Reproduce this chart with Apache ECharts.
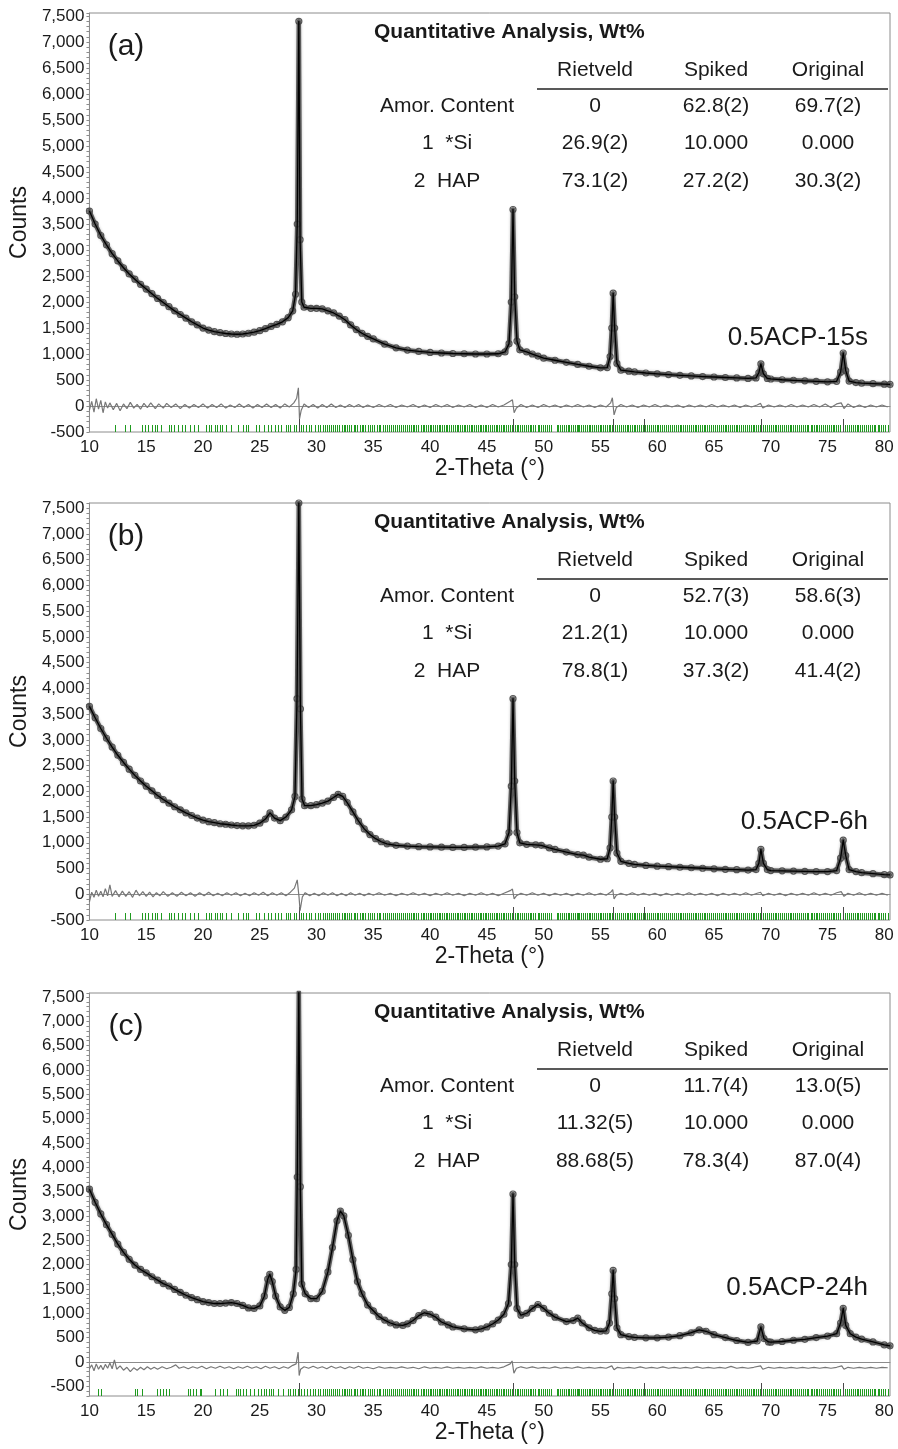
<!DOCTYPE html>
<html>
<head>
<meta charset="utf-8">
<script src="https://cdn.jsdelivr.net/npm/echarts@6/dist/echarts.min.js"></script>
<style>
  html, body { margin: 0; padding: 0; background: #ffffff; }
  #chart { width: 898px; height: 1449px; }
</style>
</head>
<body>
<div id="chart"></div>
<script>
// ---- Rietveld refinement plots of three 0.5ACP samples ----

const panelTags = ['(a)', '(b)', '(c)'];
const sampleNames = ['0.5ACP-15s', '0.5ACP-6h', '0.5ACP-24h'];
const tableTitle = 'Quantitative Analysis, Wt%';
const colHeads = ['Rietveld', 'Spiked', 'Original'];
const rowNames = ['Amor. Content', '1  *Si', '2  HAP'];
const wtA = [['0', '62.8(2)', '69.7(2)'], ['26.9(2)', '10.000', '0.000'], ['73.1(2)', '27.2(2)', '30.3(2)']];
const wtB = [['0', '52.7(3)', '58.6(3)'], ['21.2(1)', '10.000', '0.000'], ['78.8(1)', '37.3(2)', '41.4(2)']];
const wtC = [['0', '11.7(4)', '13.0(5)'], ['11.32(5)', '10.000', '0.000'], ['88.68(5)', '78.3(4)', '87.0(4)']];

// observed / fitted profile, [2-theta, counts]
const obsA = [[10,3750],[10.5,3500],[11,3280],[11.5,3100],[12,2930],[12.5,2790],[13,2660],[13.5,2540],[14,2440],[14.5,2340],[15,2250],[15.5,2160],[16,2070],[16.5,1990],[17,1910],[17.5,1830],[18,1760],[18.5,1690],[19,1620],[19.5,1560],[20,1500],[20.5,1460],[21,1430],[21.5,1410],[22,1395],[22.5,1385],[23,1380],[23.5,1385],[24,1400],[24.5,1420],[25,1450],[25.5,1490],[26,1530],[26.5,1570],[27,1620],[27.5,1700],[27.9,1830],[28.15,2150],[28.3,3500],[28.44,7400],[28.55,3200],[28.7,2000],[28.9,1900],[29.5,1880],[30,1880],[30.5,1870],[31,1830],[31.5,1790],[32,1730],[32.5,1660],[33,1560],[33.5,1470],[34,1400],[34.5,1340],[35,1290],[36,1190],[37,1120],[38,1075],[39,1050],[40,1030],[41,1020],[42,1010],[43,1005],[44,1000],[45,1000],[46,1005],[46.6,1040],[46.95,1200],[47.15,2000],[47.3,3780],[47.45,2100],[47.65,1250],[47.9,1080],[48.5,1040],[49,1000],[49.5,960],[50,920],[51,880],[52,840],[53,800],[54,765],[55,735],[55.6,740],[55.85,950],[56,1500],[56.12,2170],[56.25,1500],[56.45,820],[56.8,690],[57.5,670],[58,655],[59,635],[60,620],[61,605],[62,590],[63,578],[64,567],[65,558],[66,548],[67,540],[68,530],[68.7,540],[68.95,640],[69.13,810],[69.35,620],[69.7,530],[70,520],[71,505],[72,495],[73,485],[74,475],[75,465],[75.8,475],[76.15,650],[76.38,1020],[76.6,680],[76.9,480],[77.5,450],[78,440],[79,430],[80,420],[80.5,415]];

const obsB = [[10,3650],[10.5,3430],[11,3220],[11.5,3030],[12,2860],[12.5,2700],[13,2560],[13.5,2430],[14,2310],[14.5,2200],[15,2100],[15.5,2010],[16,1920],[16.5,1840],[17,1770],[17.5,1700],[18,1640],[18.5,1580],[19,1530],[19.5,1480],[20,1440],[20.5,1410],[21,1390],[21.5,1370],[22,1360],[22.5,1345],[23,1335],[23.5,1330],[24,1330],[24.5,1340],[25,1380],[25.5,1460],[25.9,1580],[26.3,1480],[26.8,1430],[27.3,1500],[27.8,1640],[28.1,1900],[28.28,3800],[28.44,7600],[28.58,3600],[28.72,1850],[28.95,1720],[29.5,1720],[30,1740],[30.5,1770],[31,1810],[31.5,1880],[31.9,1940],[32.3,1900],[32.7,1780],[33.2,1600],[33.7,1420],[34.2,1270],[34.7,1160],[35.2,1080],[35.7,1020],[36.2,980],[37,950],[38,935],[39,925],[40,920],[41,915],[42,910],[43,910],[44,915],[45,920],[46,935],[46.6,980],[46.95,1200],[47.15,2100],[47.3,3800],[47.45,2200],[47.65,1200],[47.9,1000],[48.5,970],[49.3,960],[49.8,950],[50.5,900],[51,870],[52,820],[53,770],[53.5,760],[54,720],[55,680],[55.6,690],[55.85,900],[56,1500],[56.12,2200],[56.25,1500],[56.45,800],[56.8,640],[57.5,600],[58,580],[59,560],[60,545],[61,535],[62,525],[63,515],[64,505],[65,495],[66,485],[67,478],[68,470],[68.7,480],[68.95,600],[69.13,870],[69.35,600],[69.7,480],[70,460],[71,455],[72,450],[73,445],[74,440],[75,440],[75.8,460],[76.15,700],[76.38,1050],[76.6,750],[76.9,480],[77.5,440],[78,420],[79,400],[80,380],[80.5,375]];

const obsC = [[10,3550],[10.5,3280],[11,3040],[11.5,2820],[12,2620],[12.5,2420],[13,2250],[13.5,2110],[14,1990],[14.5,1900],[15,1830],[15.5,1750],[16,1680],[16.5,1610],[17,1560],[17.5,1490],[18,1430],[18.5,1370],[19,1320],[19.5,1280],[20,1240],[20.5,1220],[21,1200],[21.5,1200],[22,1210],[22.5,1220],[23,1200],[23.5,1160],[24,1110],[24.5,1100],[25,1150],[25.4,1350],[25.7,1700],[25.88,1800],[26.1,1650],[26.4,1350],[26.8,1130],[27.2,1060],[27.6,1120],[27.95,1400],[28.2,1900],[28.3,3800],[28.44,7600],[28.57,3600],[28.7,1600],[29,1400],[29.5,1300],[30,1300],[30.5,1450],[31,1850],[31.4,2350],[31.8,2900],[32.1,3100],[32.4,3000],[32.8,2600],[33.2,2100],[33.6,1650],[34,1400],[34.5,1170],[35,1050],[35.5,930],[36,860],[36.5,800],[37,760],[37.6,750],[38,780],[38.5,850],[39,950],[39.5,1010],[40,980],[40.5,920],[41,820],[41.6,760],[42,720],[43,680],[44,660],[44.5,680],[45,720],[45.5,780],[46,860],[46.5,980],[46.9,1200],[47.15,2000],[47.3,3450],[47.45,2000],[47.65,1100],[48,960],[48.5,1000],[49,1100],[49.5,1180],[50,1100],[50.5,1000],[51,920],[52,830],[52.6,850],[53,900],[53.4,800],[54,700],[54.5,650],[55,630],[55.5,640],[55.8,800],[56,1400],[56.12,1880],[56.25,1300],[56.45,700],[56.8,560],[57.5,520],[58,505],[59,495],[60,495],[61,510],[62,540],[63,600],[63.7,660],[64.3,630],[65,560],[66,500],[67,440],[68,400],[68.8,430],[69.13,720],[69.4,480],[69.8,410],[70,405],[71,420],[72,445],[73,465],[74,500],[75,530],[75.8,580],[76.15,800],[76.38,1100],[76.6,750],[77,580],[77.5,510],[78,470],[79,410],[80,350],[80.5,330]];

// difference curves (observed - calculated)
const diffA = [[10,-80],[10.2,90],[10.4,-120],[10.6,140],[10.8,-60],[11,110],[11.2,-130],[11.4,80],[11.6,-40],[11.8,60],[12.1,-70],[12.4,50],[12.7,-90],[13,40],[13.3,-50],[13.6,70],[13.9,-40],[14.2,30],[14.5,-60],[14.8,50],[15.1,-30],[15.4,60],[15.8,-50],[16.1,40],[16.5,-40],[16.8,50],[17.2,-30],[17.6,40],[18,-50],[18.4,30],[18.8,-40],[19.2,30],[19.6,-30],[20,40],[20.4,-40],[20.8,30],[21.2,-30],[21.6,40],[22,-40],[22.4,20],[22.8,-30],[23.2,40],[23.6,-30],[24,30],[24.4,-40],[24.8,30],[25.2,-30],[25.6,40],[26,-30],[26.4,30],[26.8,-40],[27.2,40],[27.6,-20],[28,60],[28.25,150],[28.4,350],[28.5,-250],[28.65,-80],[28.9,40],[29.3,-30],[29.7,30],[30.1,-40],[30.5,30],[30.9,-30],[31.3,40],[31.7,-30],[32.1,20],[32.5,-30],[32.9,30],[33.3,-20],[33.7,30],[34.1,-30],[34.5,20],[35,-30],[35.5,30],[36,-20],[36.5,30],[37,-30],[37.5,20],[38,-20],[38.5,30],[39,-30],[39.5,20],[40,-30],[40.5,30],[41,-20],[41.5,30],[42,-30],[42.5,20],[43,-20],[43.5,30],[44,-30],[44.5,20],[45,-30],[45.5,30],[46,-20],[46.5,20],[47.05,90],[47.25,120],[47.4,-130],[47.6,-40],[48,30],[48.5,-30],[49,20],[49.5,-30],[50,30],[50.5,-20],[51,20],[51.5,-30],[52,20],[52.5,-20],[53,30],[53.5,-20],[54,20],[54.5,-30],[55,20],[55.5,-20],[55.9,60],[56.05,160],[56.2,-170],[56.4,-30],[56.8,30],[57.3,-20],[57.8,20],[58.3,-30],[58.8,20],[59.3,-20],[59.8,30],[60.3,-20],[60.8,20],[61.3,-20],[61.8,20],[62.3,-30],[62.8,20],[63.3,-20],[63.8,20],[64.3,-20],[64.8,30],[65.3,-20],[65.8,20],[66.3,-20],[66.8,20],[67.3,-30],[67.8,20],[68.3,-20],[68.8,20],[69.1,50],[69.3,-40],[69.8,20],[70.3,-20],[70.8,20],[71.3,-20],[71.8,30],[72.3,-20],[72.8,20],[73.3,-20],[73.8,30],[74.3,-20],[74.8,40],[75.3,-30],[75.8,40],[76.2,60],[76.45,-50],[76.8,40],[77.3,-30],[77.8,20],[78.3,-30],[78.8,20],[79.3,-20],[79.8,20],[80.3,-20]];

const diffB = [[10,-150],[10.2,40],[10.4,-60],[10.6,80],[10.8,-40],[11,60],[11.2,-50],[11.4,110],[11.6,-30],[11.8,180],[12,-40],[12.3,70],[12.6,-50],[12.9,60],[13.2,-40],[13.5,50],[13.8,-60],[14.1,80],[14.4,-30],[14.7,50],[15,-40],[15.3,40],[15.6,-50],[15.9,30],[16.2,-30],[16.5,50],[16.9,-40],[17.3,30],[17.7,-40],[18.1,40],[18.5,-30],[18.9,30],[19.3,-40],[19.7,30],[20.1,-30],[20.5,40],[20.9,-30],[21.3,20],[21.7,-30],[22.1,30],[22.5,-20],[22.9,30],[23.3,-30],[23.7,20],[24.1,-30],[24.5,30],[24.9,-20],[25.3,40],[25.7,-30],[26.1,30],[26.5,-20],[26.9,30],[27.3,-30],[27.7,40],[28.05,120],[28.3,280],[28.46,-60],[28.55,-320],[28.75,-50],[29,30],[29.4,-30],[29.8,20],[30.2,-30],[30.6,30],[31,-20],[31.4,30],[31.8,-30],[32.2,20],[32.6,-30],[33,30],[33.4,-20],[33.8,20],[34.2,-30],[34.6,20],[35,-20],[35.5,30],[36,-20],[36.5,20],[37,-30],[37.5,20],[38,-20],[38.5,30],[39,-20],[39.5,20],[40,-30],[40.5,20],[41,-20],[41.5,30],[42,-20],[42.5,20],[43,-30],[43.5,20],[44,-20],[44.5,30],[45,-20],[45.5,20],[46,-30],[46.5,20],[47.05,70],[47.25,100],[47.4,-90],[47.6,-30],[48,20],[48.5,-20],[49,30],[49.5,-20],[50,20],[50.5,-30],[51,20],[51.5,-20],[52,20],[52.5,-30],[53,20],[53.5,-20],[54,30],[54.5,-20],[55,20],[55.5,-20],[55.95,50],[56.08,90],[56.2,-90],[56.4,-20],[56.8,20],[57.3,-20],[57.8,30],[58.3,-20],[58.8,20],[59.3,-20],[59.8,20],[60.3,-30],[60.8,20],[61.3,-20],[61.8,20],[62.3,-20],[62.8,30],[63.3,-20],[63.8,20],[64.3,-20],[64.8,20],[65.3,-30],[65.8,20],[66.3,-20],[66.8,20],[67.3,-20],[67.8,30],[68.3,-20],[68.8,20],[69.1,40],[69.3,-30],[69.8,20],[70.3,-20],[70.8,20],[71.3,-30],[71.8,20],[72.3,-20],[72.8,20],[73.3,-20],[73.8,30],[74.3,-20],[74.8,20],[75.3,-20],[75.8,30],[76.2,50],[76.45,-40],[76.8,20],[77.3,-20],[77.8,30],[78.3,-20],[78.8,20],[79.3,-20],[79.8,20],[80.3,-20]];

const diffC = [[10,-140],[10.2,-60],[10.4,-180],[10.6,-40],[10.8,-150],[11,-70],[11.2,-160],[11.4,-50],[11.6,-130],[11.8,-20],[12,-140],[12.2,40],[12.4,-150],[12.7,-80],[13,-170],[13.3,-110],[13.6,-200],[13.9,-120],[14.2,-170],[14.5,-110],[14.8,-160],[15.1,-100],[15.4,-150],[15.7,-110],[16,-150],[16.4,-100],[16.8,-140],[17.2,-110],[17.6,-60],[17.9,-130],[18.3,-100],[18.7,-140],[19.1,-100],[19.5,-130],[19.9,-90],[20.3,-140],[20.7,-100],[21.1,-130],[21.5,-90],[21.9,-130],[22.3,-100],[22.7,-140],[23.1,-100],[23.5,-130],[23.9,-90],[24.3,-130],[24.7,-100],[25.1,-140],[25.5,-90],[25.9,-130],[26.3,-100],[26.7,-140],[27.1,-100],[27.5,-130],[27.9,-70],[28.2,-40],[28.38,200],[28.47,-280],[28.6,-150],[28.9,-100],[29.3,-130],[29.7,-90],[30.1,-130],[30.5,-100],[30.9,-140],[31.3,-90],[31.7,-130],[32.1,-100],[32.5,-140],[32.9,-100],[33.3,-130],[33.7,-90],[34.1,-130],[34.5,-110],[35,-140],[35.5,-100],[36,-130],[36.5,-110],[37,-130],[37.5,-100],[38,-130],[38.5,-110],[39,-140],[39.5,-100],[40,-130],[40.5,-110],[41,-130],[41.5,-100],[42,-130],[42.5,-110],[43,-130],[43.5,-110],[44,-130],[44.5,-100],[45,-130],[45.5,-110],[46,-130],[46.5,-100],[47.05,-40],[47.22,20],[47.38,-230],[47.6,-130],[48,-100],[48.5,-130],[49,-100],[49.5,-130],[50,-110],[50.5,-130],[51,-100],[51.5,-130],[52,-110],[52.5,-130],[53,-100],[53.5,-130],[54,-110],[54.5,-130],[55,-110],[55.5,-130],[56,-80],[56.2,-160],[56.5,-110],[57,-130],[57.5,-110],[58,-130],[58.5,-100],[59,-130],[59.5,-110],[60,-130],[60.5,-100],[61,-130],[61.5,-110],[62,-130],[62.5,-110],[63,-130],[63.5,-100],[64,-130],[64.5,-110],[65,-130],[65.5,-110],[66,-130],[66.5,-90],[67,-130],[67.5,-110],[68,-130],[68.5,-110],[69.1,-80],[69.3,-150],[69.8,-110],[70.3,-130],[70.8,-110],[71.3,-130],[71.8,-110],[72.3,-130],[72.8,-110],[73.3,-130],[73.8,-110],[74.3,-130],[74.8,-110],[75.3,-130],[75.8,-110],[76.25,-80],[76.45,-150],[76.8,-110],[77.3,-130],[77.8,-110],[78.3,-130],[78.8,-110],[79.3,-130],[79.8,-110],[80.3,-120]];

// reflection markers (2-theta)
const siRefl = [28.44, 47.30, 56.12, 58.86, 69.13, 76.38];
const hapLowAB = [12.25,13.13,13.57,14.59,14.88,15.2,15.47,15.76,15.96,16.26,17.02,17.22,17.46,17.81,18.19,18.39,18.83,19.18,19.56,20.29,20.5,20.73,21.02,21.23,21.46,21.7,22.05,22.43,23.07,23.5,23.75,23.95,24.68,24.97,25.4,25.7,26.0,26.3,26.6,26.9,27.3,27.5,27.7,28.0,28.2,28.6,28.8,29.1,29.3,29.5,29.9];
const hapLowC = [10.79,10.99,14.0,14.15,14.59,15.96,16.2,16.49,16.78,17.02,18.68,18.89,19.12,19.42,19.71,19.85,21.02,21.46,21.75,22.1,22.92,23.07,23.27,23.51,23.8,24.15,24.53,24.82,25.12,25.41,25.56,25.85,26.0,26.2,26.58,27.02,27.46,27.66,27.89,28.13,28.33,28.63,28.9,29.2,29.4,29.7,29.9];
const hapHigh = [30.15,30.32,30.55,30.71,30.9,31.12,31.3,31.47,31.66,31.78,31.95,32.2,32.38,32.52,32.7,32.9,33.05,33.26,33.41,33.6,33.82,34.0,34.07,34.3,34.52,34.68,34.85,35.1,35.28,35.48,35.6,35.82,36.0,36.19,36.37,36.55,36.71,36.9,37.05,37.24,37.42,37.6,37.77,37.93,38.1,38.3,38.46,38.62,38.8,38.97,39.2,39.35,39.5,39.66,39.82,39.98,40.12,40.28,40.45,40.6,40.75,40.9,41.05,41.22,41.38,41.53,41.7,41.85,42.03,42.18,42.33,42.5,42.64,42.8,42.95,43.1,43.27,43.42,43.58,43.72,43.88,44.05,44.2,44.35,44.5,44.66,44.8,44.96,45.12,45.31,45.45,45.6,45.76,45.9,46.07,46.22,46.38,46.55,46.71,46.86,47.02,47.2,47.45,47.62,47.78,47.93,48.1,48.26,48.42,48.62,48.77,48.92,49.1,49.26,49.47,49.62,49.8,49.96,50.12,50.3,50.49,50.62,51.15,51.28,51.45,51.6,51.78,51.93,52.1,52.26,52.42,52.58,52.75,52.9,53.06,53.14,53.3,53.46,53.62,53.8,53.95,54.1,54.28,54.44,54.6,54.76,54.92,55.08,55.25,55.4,55.56,55.72,55.88,56.02,56.3,56.46,56.62,56.8,56.95,57.13,57.3,57.45,57.62,57.8,57.95,58.07,58.25,58.42,58.6,58.75,58.95,59.1,59.28,59.44,59.6,59.77,59.94,60.1,60.26,60.46,60.6,60.78,60.95,61.1,61.28,61.45,61.66,61.8,61.97,62.12,62.3,62.46,62.62,62.8,63.01,63.15,63.3,63.44,63.6,63.77,63.95,64.08,64.25,64.42,64.6,64.78,64.94,65.1,65.26,65.42,65.6,65.78,65.95,66.1,66.26,66.37,66.55,66.72,66.9,67.05,67.22,67.4,67.56,67.72,67.9,68.06,68.22,68.4,68.56,68.72,68.9,69.05,69.3,69.48,69.7,69.85,70.02,70.18,70.35,70.5,70.68,70.85,71.0,71.18,71.35,71.5,71.65,71.82,72.0,72.15,72.3,72.48,72.65,72.82,73.0,73.15,73.32,73.5,73.66,73.82,74.0,74.1,74.28,74.45,74.6,74.78,74.95,75.1,75.28,75.45,75.6,75.78,75.95,76.12,76.55,76.7,76.88,77.05,77.2,77.38,77.55,77.72,77.9,78.05,78.2,78.38,78.55,78.72,78.9,79.05,79.22,79.4,79.55,79.72,79.9,80.1,80.3];

// ---- layout ----
const FONT = '"Liberation Sans", Arial, Helvetica, sans-serif';
const TXT = '#1a1a1a';
const FRAME = '#8c8c8c';
const panels = [
  { grid: { left: 86, top: 13,  width: 804, height: 419 }, yMin: -500, yMax: 7560, obs: obsA, diff: diffA, hap: hapLowAB.concat(hapHigh), wt: wtA, dy: 0,   nameY: 338 },
  { grid: { left: 86, top: 503, width: 804, height: 417 }, yMin: -500, yMax: 7600, obs: obsB, diff: diffB, hap: hapLowAB.concat(hapHigh), wt: wtB, dy: 490, nameY: 822 },
  { grid: { left: 86, top: 993, width: 804, height: 403 }, yMin: -700, yMax: 7580, obs: obsC, diff: diffC, hap: hapLowC.concat(hapHigh),  wt: wtC, dy: 980, nameY: 1288 }
];
const colX = [595, 716, 828];
const rowY = [106, 143, 181];

// short vertical reflection markers standing on the bottom of the frame
function tickRenderer(color, len, width) {
  return function (params, api) {
    const p = api.coord([api.value(0), api.value(1)]);
    const x = Math.round(p[0]) + 0.5;
    return {
      type: 'line',
      shape: { x1: x, y1: p[1], x2: x, y2: p[1] - len },
      style: { stroke: color, lineWidth: width }
    };
  };
}

const grid = [], xAxis = [], yAxis = [], series = [], graphic = [];

panels.forEach((pn, k) => {
  grid.push(Object.assign({ show: true, borderColor: FRAME, borderWidth: 1, backgroundColor: 'transparent' }, pn.grid));
  xAxis.push({
    gridIndex: k, type: 'value', min: 10, max: 80.5, interval: 5,
    axisLine: { show: true, lineStyle: { color: FRAME } },
    axisTick: { show: false },
    splitLine: { show: false },
    axisLabel: { fontSize: 17, color: TXT, fontFamily: FONT, margin: 7,
      formatter: v => (v % 5 === 0 ? String(v) : '') },
    name: '2-Theta (°)', nameLocation: 'middle', nameGap: 24,
    nameTextStyle: { fontSize: 23, color: TXT, fontFamily: FONT }
  });
  yAxis.push({
    gridIndex: k, type: 'value', min: pn.yMin, max: pn.yMax, interval: 100,
    axisLine: { show: true, lineStyle: { color: FRAME } },
    axisTick: { show: true, length: 3, lineStyle: { color: FRAME } },
    splitLine: { show: false },
    axisLabel: { fontSize: 17, color: TXT, fontFamily: FONT, margin: 5,
      formatter: v => (v % 500 === 0 ? v.toLocaleString('en-US') : '') },
    name: 'Counts', nameLocation: 'middle', nameGap: 49,
    nameTextStyle: { fontSize: 23, color: TXT, fontFamily: FONT }
  });

  const base = pn.yMin;
  series.push({
    type: 'custom', xAxisIndex: k, yAxisIndex: k, silent: true, z: 2,
    encode: { x: 0, y: 1 },
    renderItem: tickRenderer('#1f9a1f', 7, 1),
    data: pn.hap.map(t => [t, base])
  });
  series.push({
    type: 'custom', xAxisIndex: k, yAxisIndex: k, silent: true, z: 3,
    encode: { x: 0, y: 1 },
    renderItem: tickRenderer('#4a4a4a', 13, 1),
    data: siRefl.map(t => [t, base])
  });
  series.push({
    name: 'Difference', type: 'line', xAxisIndex: k, yAxisIndex: k, silent: true, z: 3,
    data: pn.diff, showSymbol: false, clip: true,
    lineStyle: { color: '#777777', width: 1.2 }
  });
  series.push({
    name: 'Observed', type: 'line', xAxisIndex: k, yAxisIndex: k, silent: true, z: 4,
    data: pn.obs, showSymbol: true, symbol: 'circle', symbolSize: 6, clip: true,
    itemStyle: { color: 'rgba(255,255,255,0)', borderColor: 'rgba(70,70,70,0.9)', borderWidth: 1.2 },
    lineStyle: { color: 'rgba(60,60,60,0.8)', width: 4.5, join: 'round', cap: 'round',
      shadowColor: 'rgba(0,0,0,0.3)', shadowBlur: 3 }
  });
  series.push({
    name: 'Calculated', type: 'line', xAxisIndex: k, yAxisIndex: k, silent: true, z: 5,
    data: pn.obs, showSymbol: false, clip: true,
    lineStyle: { color: '#000000', width: 1.3, join: 'round' }
  });

  const dy = pn.dy;
  const txt = (s, x, y, align, font) => ({
    type: 'text', x: x, y: y, silent: true, z: 10,
    style: { text: s, align: align, verticalAlign: 'middle', font: font, fill: TXT }
  });
  graphic.push(txt(panelTags[k], 126, 47 + dy, 'center', '30px ' + FONT));
  graphic.push(txt(sampleNames[k], 868, pn.nameY, 'right', '26px ' + FONT));
  graphic.push(txt(tableTitle, 374, 32 + dy, 'left', 'bold 21px ' + FONT));
  colHeads.forEach((h, i) => graphic.push(txt(h, colX[i], 70 + dy, 'center', '21px ' + FONT)));
  graphic.push({ type: 'line', silent: true, z: 10,
    shape: { x1: 537, y1: 89 + dy, x2: 888, y2: 89 + dy },
    style: { stroke: '#222', lineWidth: 1.5 } });
  rowNames.forEach((r, j) => {
    graphic.push(txt(r, 447, rowY[j] + dy, 'center', '21px ' + FONT));
    pn.wt[j].forEach((v, i) => graphic.push(txt(v, colX[i], rowY[j] + dy, 'center', '21px ' + FONT)));
  });
});

const chart = echarts.init(document.getElementById('chart'), null, { renderer: 'canvas' });
chart.setOption({
  animation: false,
  backgroundColor: '#ffffff',
  textStyle: { fontFamily: FONT },
  grid: grid,
  xAxis: xAxis,
  yAxis: yAxis,
  series: series,
  graphic: { elements: graphic }
});
</script>
</body>
</html>
